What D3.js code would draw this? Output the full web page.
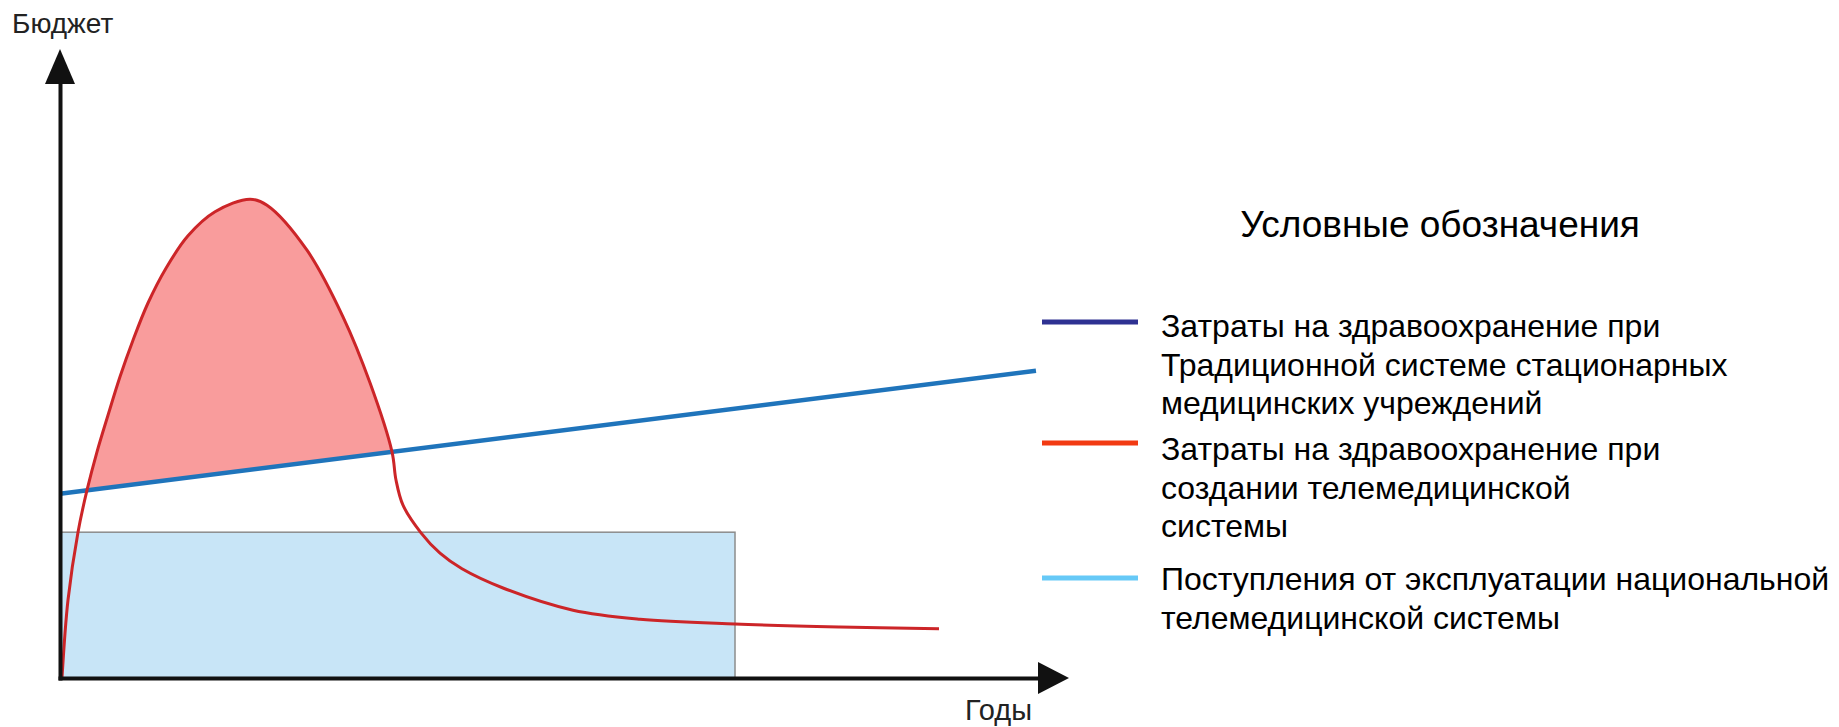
<!DOCTYPE html>
<html>
<head>
<meta charset="utf-8">
<script src="https://cdn.jsdelivr.net/npm/d3@7"></script>
<style>
  body { margin: 0; background: #fff; }
  svg { display: block; }
  text { font-family: "Liberation Sans", Arial, sans-serif; fill: #000; }
  .axis-label { font-family: "Liberation Sans Narrow", "Arial Narrow", "Liberation Sans", sans-serif; font-stretch: condensed; fill: #222; }
</style>
</head>
<body>
<script>

// red curve: costs when building the telemedicine system (years, budget)
const telemedYears  = [0.02, 0.08, 0.18, 0.27, 0.37, 0.48, 0.60, 0.73, 0.88, 1.06, 1.28, 1.55, 1.90, 2.07, 2.47, 2.83, 3.10, 3.32, 3.36, 3.43, 3.61, 3.80, 4.02, 4.43, 5.13, 5.80, 6.75, 7.80, 8.79];
const telemedBudget = [0.00, 1.30, 2.43, 3.13, 3.77, 4.38, 5.02, 5.63, 6.25, 6.83, 7.37, 7.77, 7.98, 7.88, 7.13, 6.02, 4.92, 3.77, 3.30, 2.88, 2.42, 2.08, 1.82, 1.50, 1.13, 0.98, 0.90, 0.85, 0.82];

// blue line: costs of the traditional system (straight line)
const traditionalYears  = [0, 9.76];
const traditionalBudget = [3.07, 5.12];

// light-blue block: income from operating the national system
const incomeYears = [0, 6.75];
const incomeBudget = 2.43;

const axisTitles = { y: "Бюджет", x: "Годы" };
const legendTitle = "Условные обозначения";
const legendItems = [
  ["Затраты на здравоохранение при", "Традиционной системе стационарных", "медицинских учреждений"],
  ["Затраты на здравоохранение при", "создании телемедицинской", "системы"],
  ["Поступления от эксплуатации национальной", "телемедицинской системы"]
];
const legendColors = ["#2e3192", "#f23a12", "#66c9f7"];

const width = 1839,
  height = 727;

const x = d3.scaleLinear().domain([0, 10]).range([60, 1060]);
const y = d3.scaleLinear().domain([0, 10]).range([678, 78]);

const svg = d3.select("body").append("svg")
  .attr("width", width)
  .attr("height", height);

const telemed = telemedYears.map((t, i) => ({ t: t, b: telemedBudget[i] }));
const traditional = traditionalYears.map((t, i) => ({ t: t, b: traditionalBudget[i] }));
const tradAt = d3.scaleLinear().domain(traditionalYears).range(traditionalBudget); // blue value at any year

// income rectangle
svg.append("rect")
  .attr("x", x(incomeYears[0]))
  .attr("y", y(incomeBudget))
  .attr("width", x(incomeYears[1]) - x(incomeYears[0]))
  .attr("height", y(0) - y(incomeBudget))
  .style("fill", "#c8e5f7")
  .style("stroke", "#8c8c8c")
  .style("stroke-width", 1.5);

// clip: only the part above the blue line gets the pink fill
svg.append("clipPath").attr("id", "above-blue")
  .append("path")
  .attr("d", "M" + x(0) + "," + y(tradAt(0)) +
             "L" + x(10) + "," + y(tradAt(10)) +
             "L" + x(10) + "," + y(10) +
             "L" + x(0) + "," + y(10) + "Z");

const curve = d3.curveCatmullRom.alpha(0.5);

svg.append("path")
  .datum(telemed)
  .attr("clip-path", "url(#above-blue)")
  .attr("d", d3.area()
    .x(d => x(d.t))
    .y0(d => y(tradAt(d.t)))
    .y1(d => y(d.b))
    .curve(curve))
  .style("fill", "#f99c9c");

// traditional system line
svg.append("path")
  .datum(traditional)
  .attr("d", d3.line().x(d => x(d.t)).y(d => y(d.b)))
  .style("fill", "none")
  .style("stroke", "#1f74bb")
  .style("stroke-width", 4.5);

// telemedicine line
svg.append("path")
  .datum(telemed)
  .attr("d", d3.line().x(d => x(d.t)).y(d => y(d.b)).curve(curve))
  .style("fill", "none")
  .style("stroke", "#cc2528")
  .style("stroke-width", 3);

// axes, no ticks, just the lines + arrow heads
svg.append("g")
  .attr("transform", "translate(0," + y(0) + ")")
  .call(d3.axisBottom(x).ticks(0).tickSizeOuter(0));
svg.append("g")
  .attr("transform", "translate(" + x(0) + ",0)")
  .call(d3.axisLeft(y).ticks(0).tickSizeOuter(0));

svg.selectAll(".domain")
  .style("stroke", "#111")
  .style("stroke-width", 4)
  .style("stroke-linecap", "square");

svg.append("path") // y arrow
  .attr("d", "M" + x(0) + ",49L" + (x(0) + 15) + ",84L" + (x(0) - 15) + ",84Z")
  .style("fill", "#111");
svg.append("path") // x arrow
  .attr("d", "M1069," + y(0) + "L1038," + (y(0) - 16) + "L1038," + (y(0) + 16) + "Z")
  .style("fill", "#111");

svg.append("text")
  .attr("class", "axis-label")
  .attr("x", 12)
  .attr("y", 33)
  .style("font-size", "28px")
  .text(axisTitles.y);

svg.append("text")
  .attr("class", "axis-label")
  .attr("x", 965)
  .attr("y", 720)
  .style("font-size", "29px")
  .text(axisTitles.x);

// legend
svg.append("text")
  .attr("x", 1440)
  .attr("y", 237)
  .attr("text-anchor", "middle")
  .style("font-size", "37px")
  .text(legendTitle);

const legendMarkY = [322, 443, 578];
const legendTextY = [337, 460, 590];
const lineGap = 38.5;

legendItems.forEach(function(lines, i) {
  svg.append("line")
    .attr("x1", 1042).attr("x2", 1138)
    .attr("y1", legendMarkY[i]).attr("y2", legendMarkY[i])
    .style("stroke", legendColors[i])
    .style("stroke-width", 5);

  svg.append("text")
    .attr("x", 1161)
    .attr("y", legendTextY[i])
    .style("font-size", "32px")
    .selectAll("tspan")
    .data(lines)
    .enter()
    .append("tspan")
    .attr("x", 1161)
    .attr("dy", (d, j) => j === 0 ? 0 : lineGap)
    .text(d => d);
});

</script>
</body>
</html>
